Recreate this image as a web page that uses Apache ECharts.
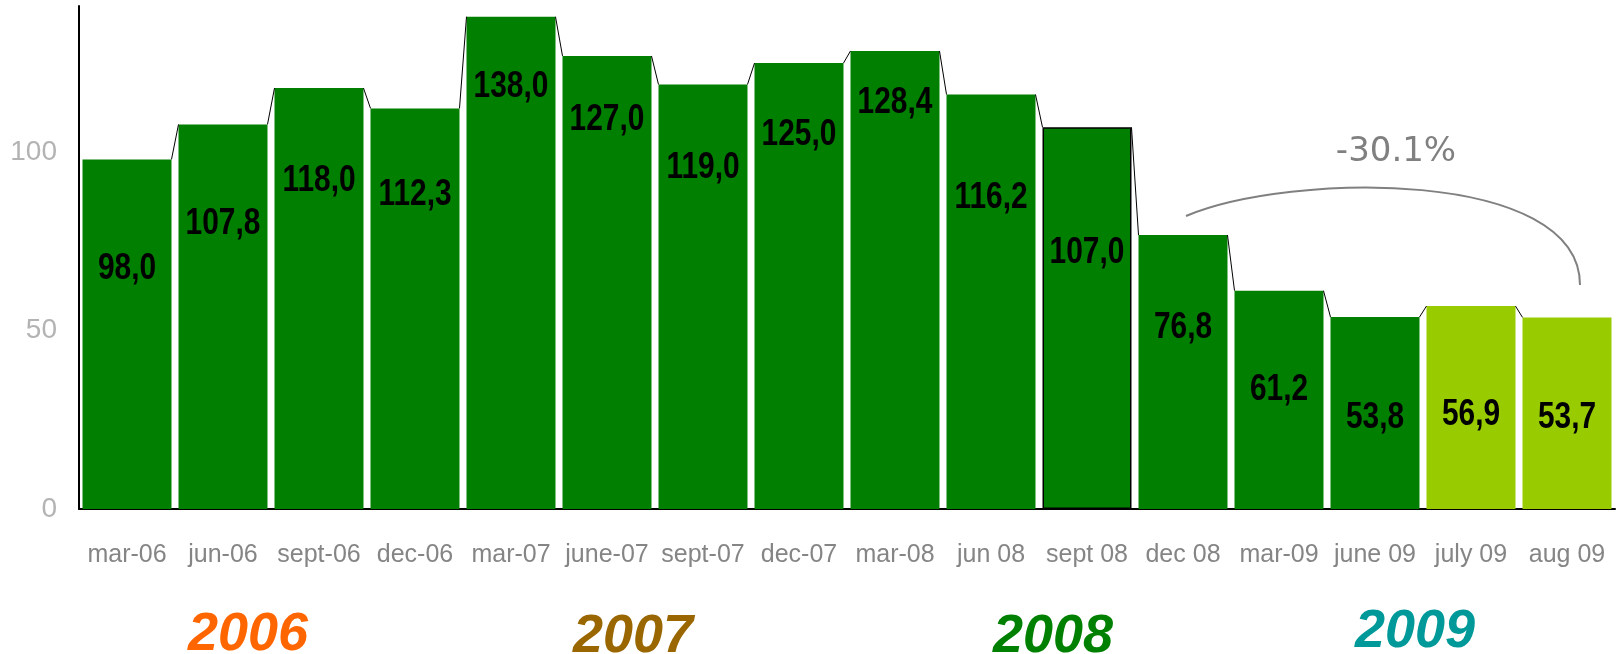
<!DOCTYPE html>
<html>
<head>
<meta charset="UTF-8"/>
<script src="https://cdn.jsdelivr.net/npm/echarts@6/dist/echarts.min.js"></script>
<style>
  html, body { margin: 0; background: #FFFFFF; }
  #c { width: 1622px; height: 654px; }
</style>
</head>
<body>
<div id="c"></div>
<script>
// quarters / months shown on the x axis
const categories = ['mar-06', 'jun-06', 'sept-06', 'dec-06', 'mar-07', 'june-07', 'sept-07', 'dec-07',
    'mar-08', 'jun 08', 'sept 08', 'dec 08', 'mar-09', 'june 09', 'july 09', 'aug 09'];
const values = [98.0, 107.8, 118.0, 112.3, 138.0, 127.0, 119.0, 125.0,
    128.4, 116.2, 107.0, 76.8, 61.2, 53.8, 56.9, 53.7];
const yTicks = [0, 50, 100];
const yearLabels = ['2006', '2007', '2008', '2009'];
const changeLabel = '-30.1%';

// style bits
const DARK = '#007F00';
const LIGHT = '#99CC00';
const lightFrom = 14;          // july 09 onwards drawn in light green
const outlined = 10;           // sept 08 has a black outline
const GAP = 0.073;
// how far (px) below each bar top its value label sits, as in the original slide
const labelDrop = [110, 100, 93, 87, 70, 64, 84, 72, 52, 104, 126, 93, 99, 101, 109, 101];

const yearColors = ['#FF6600', '#996600', '#008000', '#009999'];
const yearX = [248, 633, 1053, 1415];
const yearY = [635, 637, 637, 632];

const fmt = v => v.toFixed(1).replace('.', ',');

const barData = values.map((v, i) => ({
    value: v,
    itemStyle: {
        color: i >= lightFrom ? LIGHT : DARK,
        borderColor: i === outlined ? '#000' : 'transparent',
        borderWidth: i === outlined ? 1.5 : 0
    }
}));

const stepData = values.slice(0, -1).map((v, i) => [i, v, values[i + 1]]);
const labelData = values.map((v, i) => [i, v]);

const chart = echarts.init(document.getElementById('c'), null, { renderer: 'canvas' });

chart.setOption({
    animation: false,
    grid: { left: 79, right: 7, top: 6, bottom: 145, containLabel: false },
    xAxis: {
        type: 'category',
        data: categories,
        axisLine: { lineStyle: { color: '#000', width: 2 } },
        axisTick: { show: false },
        axisLabel: {
            interval: 0, margin: 34, color: '#858585',
            fontFamily: 'Liberation Sans, Arial, sans-serif', fontSize: 25
        }
    },
    yAxis: {
        type: 'value',
        min: 0, max: 141, interval: 50,
        splitLine: { show: false },
        axisTick: { show: false },
        axisLine: { show: true, lineStyle: { color: '#000', width: 2 } },
        axisLabel: {
            showMaxLabel: false, margin: 22, color: '#B3B3B3',
            fontFamily: 'Liberation Sans, Arial, sans-serif', fontSize: 28,
            formatter: v => (yTicks.includes(v) ? String(v) : '')
        }
    },
    series: [
        {
            type: 'bar',
            data: barData,
            barCategoryGap: (GAP * 100) + '%'
        },
        {
            // thin lines joining the top corners of neighbouring bars
            type: 'custom',
            data: stepData,
            encode: { x: 0, y: 1 },
            z: 3,
            renderItem: (params, api) => {
                const i = api.value(0);
                const a = api.coord([i, api.value(1)]);
                const b = api.coord([i + 1, api.value(2)]);
                const half = api.size([1, 0])[0] * (1 - GAP) / 2;
                return {
                    type: 'line',
                    shape: { x1: a[0] + half, y1: a[1], x2: b[0] - half, y2: b[1] },
                    style: { stroke: '#000', lineWidth: 1 }
                };
            }
        },
        {
            // value labels in a condensed bold face (no narrow font installed, so squeeze it)
            type: 'custom',
            data: labelData,
            encode: { x: 0, y: 1 },
            z: 4,
            renderItem: (params, api) => {
                const i = api.value(0);
                const p = api.coord([i, api.value(1)]);
                return {
                    type: 'text',
                    x: p[0], y: p[1] + labelDrop[i],
                    scaleX: 0.83,
                    style: {
                        text: fmt(api.value(1)), fill: '#000',
                        font: 'bold 36px "Liberation Sans", Arial, sans-serif',
                        align: 'center', verticalAlign: 'middle'
                    }
                };
            }
        }
    ],
    graphic: [
        ...yearLabels.map((t, i) => ({
            type: 'text',
            x: yearX[i], y: yearY[i],
            style: {
                text: t, fill: yearColors[i],
                font: 'italic bold 54px "Liberation Sans", Arial, sans-serif',
                align: 'center', verticalAlign: 'middle'
            }
        })),
        {
            type: 'text',
            x: 1396, y: 152,
            style: {
                text: changeLabel, fill: '#808080',
                font: '34px "DejaVu Sans", Verdana, sans-serif',
                align: 'center', verticalAlign: 'middle'
            }
        },
        {
            type: 'bezierCurve',
            shape: { x1: 1186, y1: 216, cpx1: 1290, cpy1: 172, cpx2: 1580, cpy2: 168, x2: 1580, y2: 285 },
            style: { stroke: '#808080', lineWidth: 2, fill: null }
        }
    ]
});
</script>
</body>
</html>
